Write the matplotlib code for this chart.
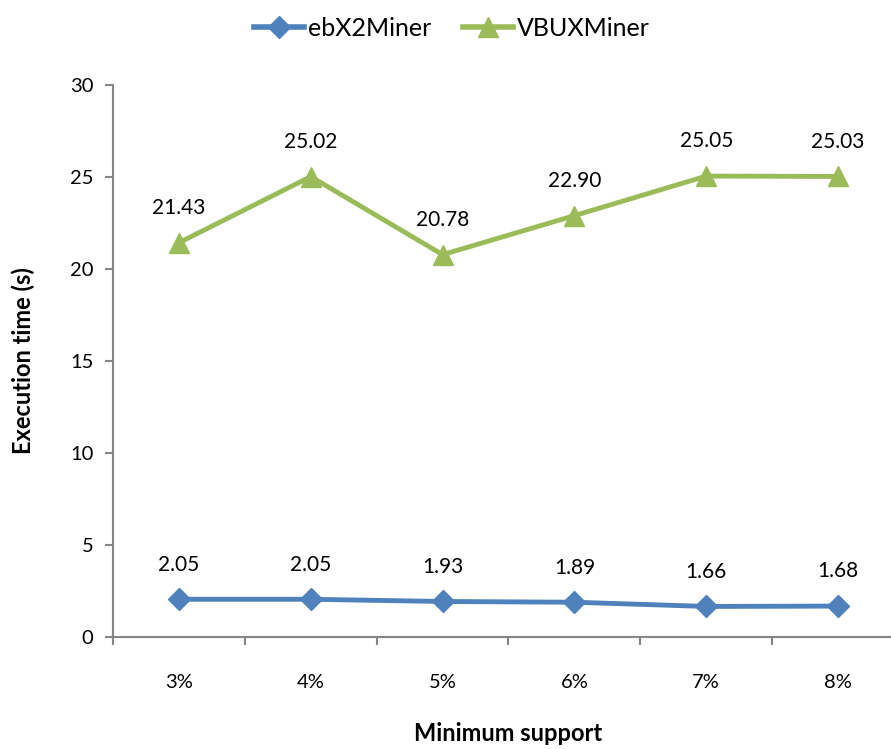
import matplotlib
matplotlib.use("Agg")
import matplotlib.pyplot as plt
from matplotlib.lines import Line2D

categories = ["3%", "4%", "5%", "6%", "7%", "8%"]
ebx2 = [2.05, 2.05, 1.93, 1.89, 1.66, 1.68]
vbux = [21.43, 25.02, 20.78, 22.90, 25.05, 25.03]
ebx2_labels = ["2.05", "2.05", "1.93", "1.89", "1.66", "1.68"]
vbux_labels = ["21.43", "25.02", "20.78", "22.90", "25.05", "25.03"]

plt.rcParams['font.family'] = ['Lato', 'DejaVu Sans']

W, H = 891, 749
fig = plt.figure(figsize=(W/100, H/100), dpi=100)
left, right, top, bottom = 113, 904, 85, 637
ax = fig.add_axes([left/W, (H-bottom)/H, (right-left)/W, (bottom-top)/H])

blue = "#4F81BD"
green = "#9BBB59"
x = list(range(len(categories)))
ax.plot(x, ebx2, color=blue, lw=3.5, marker="D", ms=11, mec=blue, mfc=blue, label="ebX2Miner", clip_on=False)
ax.plot(x, vbux, color=green, lw=3.5, marker="^", ms=14, mec=green, mfc=green, label="VBUXMiner", clip_on=False)

for xi, v, t in zip(x, ebx2, ebx2_labels):
    ax.annotate(t, (xi, v), xytext=(0, 25), textcoords="offset points", ha="center", va="center", fontsize=15)
for xi, v, t in zip(x, vbux, vbux_labels):
    ax.annotate(t, (xi, v), xytext=(0, 25), textcoords="offset points", ha="center", va="center", fontsize=15)

ax.set_xlim(-0.5, 5.5)
ax.set_ylim(0, 30)
ax.set_yticks([0, 5, 10, 15, 20, 25, 30])
ax.set_xticks(x)
ax.set_xticklabels(categories)
ax.set_xticks([i + 0.5 for i in range(-1, 6)], minor=True)

axis_col = "#868686"
for s in ["top", "right"]:
    ax.spines[s].set_visible(False)
for s in ["left", "bottom"]:
    ax.spines[s].set_color(axis_col)
    ax.spines[s].set_linewidth(1.5)
ax.tick_params(axis="y", direction="out", length=6, width=1.5, color=axis_col, labelsize=14.5, pad=8)
ax.tick_params(axis="x", which="major", length=0, labelsize=14.5, pad=27)
ax.tick_params(axis="x", which="minor", direction="out", length=6, width=1.5, color=axis_col)

ax.set_ylabel("Execution time (s)", fontsize=17, fontweight="bold", labelpad=25)
ax.set_xlabel("Minimum support", fontsize=17, fontweight="bold", labelpad=22)

handles = [Line2D([], [], color=blue, lw=4, marker="D", ms=11),
           Line2D([], [], color=green, lw=4, marker="^", ms=14)]
fig.legend(handles, ["ebX2Miner", "VBUXMiner"], loc="center", bbox_to_anchor=(452/W, 1 - 28/H),
           ncol=2, frameon=False, fontsize=18, handlelength=2.0, handletextpad=0.15, columnspacing=1.3)

fig.savefig("out.png", dpi=100)
